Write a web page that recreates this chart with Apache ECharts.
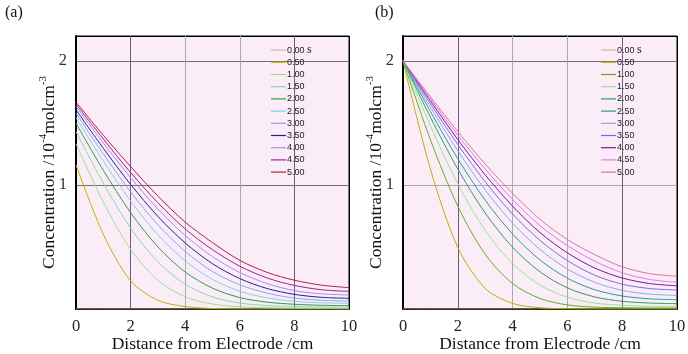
<!DOCTYPE html>
<html>
<head>
<meta charset="utf-8">
<script src="https://cdn.jsdelivr.net/npm/echarts@6/dist/echarts.min.js"></script>
<style>
html, body { margin: 0; padding: 0; background: #fff; }
#chart { width: 688px; height: 354px; }
</style>
</head>
<body>
<div id="chart"></div>
<script>
// distance from electrode (cm) where each profile is read
let xs = [0, 1, 2, 3, 4, 5, 6, 7, 8, 9, 10];
// elapsed time of each profile (s)
let times = ['0.00', '0.50', '1.00', '1.50', '2.00', '2.50', '3.00', '3.50', '4.00', '4.50', '5.00'];

// (a) concentration profiles, 10^-4 mol cm^-3
let a000 = [0, 0, 0, 0, 0, 0, 0, 0, 0, 0, 0];
let a050 = [1.161, 0.603, 0.228, 0.070, 0.020, 0.004, 0, 0, 0, 0, 0];
let a100 = [1.331, 0.862, 0.481, 0.232, 0.098, 0.040, 0.018, 0.010, 0.007, 0.006, 0.005];
let a150 = [1.430, 1.015, 0.652, 0.380, 0.200, 0.097, 0.048, 0.028, 0.020, 0.016, 0.015];
let a200 = [1.497, 1.118, 0.777, 0.500, 0.298, 0.168, 0.092, 0.055, 0.038, 0.030, 0.027];
let a250 = [1.543, 1.193, 0.870, 0.598, 0.388, 0.238, 0.143, 0.090, 0.062, 0.050, 0.045];
let a300 = [1.578, 1.250, 0.944, 0.678, 0.464, 0.302, 0.195, 0.128, 0.088, 0.070, 0.063];
let a350 = [1.605, 1.295, 1.004, 0.746, 0.532, 0.365, 0.245, 0.165, 0.118, 0.094, 0.086];
let a400 = [1.632, 1.338, 1.058, 0.806, 0.592, 0.422, 0.294, 0.205, 0.148, 0.122, 0.113];
let a450 = [1.650, 1.370, 1.100, 0.856, 0.645, 0.478, 0.345, 0.250, 0.190, 0.155, 0.142];
let a500 = [1.667, 1.400, 1.148, 0.910, 0.700, 0.535, 0.392, 0.295, 0.232, 0.192, 0.172];

// (b) concentration profiles
let b000 = [0, 0, 0, 0, 0, 0, 0, 0, 0, 0, 0];
let b050 = [2, 1.128, 0.496, 0.166, 0.045, 0.010, 0.002, 0, 0, 0, 0];
let b100 = [2, 1.365, 0.829, 0.441, 0.205, 0.085, 0.033, 0.015, 0.010, 0.008, 0.008];
let b150 = [2, 1.478, 1.010, 0.634, 0.365, 0.192, 0.095, 0.048, 0.030, 0.022, 0.020];
let b200 = [2, 1.546, 1.128, 0.773, 0.498, 0.300, 0.170, 0.097, 0.062, 0.048, 0.043];
let b250 = [2, 1.592, 1.211, 0.877, 0.604, 0.395, 0.248, 0.155, 0.105, 0.082, 0.075];
let b300 = [2, 1.627, 1.275, 0.959, 0.692, 0.480, 0.322, 0.215, 0.150, 0.120, 0.110];
let b350 = [2, 1.654, 1.326, 1.025, 0.765, 0.553, 0.390, 0.272, 0.200, 0.165, 0.153];
let b400 = [2, 1.677, 1.366, 1.081, 0.829, 0.616, 0.452, 0.330, 0.250, 0.205, 0.187];
let b450 = [2, 1.695, 1.401, 1.128, 0.883, 0.672, 0.511, 0.385, 0.292, 0.238, 0.215];
let b500 = [2, 1.710, 1.430, 1.168, 0.932, 0.723, 0.560, 0.438, 0.340, 0.285, 0.264];

let profilesA = [a000, a050, a100, a150, a200, a250, a300, a350, a400, a450, a500];
let profilesB = [b000, b050, b100, b150, b200, b250, b300, b350, b400, b450, b500];

let colorsA = ['#d8b0a8', '#c0b400', '#a0dc90', '#88d8a8', '#28a048', '#80d0f0', '#88a8e0', '#2020a0', '#a090e8', '#a02090', '#b02048'];
let colorsB = ['#e0b098', '#b8b000', '#60b020', '#98e490', '#28a060', '#20a098', '#88aae8', '#7070e0', '#8010a0', '#e078f0', '#d87894'];

let serif = 'Liberation Serif';

(function() {
	let myChart = echarts.init(document.getElementById('chart'), null, { renderer: 'canvas' });

	function buildSeries(list, colors, idx, tag) {
		return list.map(function(vals, i) {
			return {
				name: tag + ':' + times[i],
				type: 'line',
				xAxisIndex: idx,
				yAxisIndex: idx,
				symbol: 'none',
				smooth: 0.3,
				lineStyle: { width: 1, color: colors[i] },
				itemStyle: { color: colors[i] },
				data: xs.map(function(x, k) { return [x, vals[k]]; })
			};
		});
	}

	function makeX(idx) {
		return {
			gridIndex: idx,
			type: 'value',
			min: 0,
			max: 10,
			interval: 2,
			name: 'Distance from Electrode /cm',
			nameLocation: 'middle',
			nameGap: 26,
			nameMoveOverlap: false,
			nameTextStyle: { fontFamily: serif, fontSize: 17.5, color: '#111' },
			axisLine: { show: true, onZero: false, lineStyle: { color: '#000', width: 2 } },
			axisTick: { show: false },
			axisLabel: { fontFamily: serif, fontSize: 16.5, color: '#222', margin: 9 },
			splitLine: {
				show: true,
				lineStyle: { width: 1, color: ['#000', '#6e5e78', '#aaaaaa', '#aaaaaa', '#6e5e78', '#000'] }
			}
		};
	}

	function makeY(idx, gridColors) {
		return {
			gridIndex: idx,
			type: 'value',
			min: 0,
			max: 2.2,
			interval: 1,
			name: '{t|Concentration /10}{s|-4}{t|molcm}{s|-3}',
			nameLocation: 'middle',
			nameRotate: 90,
			nameGap: 18,
			nameMoveOverlap: false,
			nameTextStyle: {
				fontFamily: serif,
				fontSize: 17.5,
				color: '#111',
				rich: {
					t: { fontFamily: serif, fontSize: 17.5, lineHeight: 20, verticalAlign: 'bottom', color: '#111' },
					s: { fontFamily: serif, fontSize: 11, lineHeight: 12, verticalAlign: 'top', color: '#111' }
				}
			},
			axisLine: { show: true, onZero: false, lineStyle: { color: '#000', width: 2 } },
			axisTick: { show: false },
			axisLabel: {
				fontFamily: serif,
				fontSize: 16.5,
				color: '#333',
				margin: 9,
				formatter: function(v) { return (v === 1 || v === 2) ? String(v) : ''; }
			},
			splitLine: { show: true, lineStyle: { width: 1, color: gridColors } }
		};
	}

	function makeLegend(left, tag) {
		return {
			orient: 'vertical',
			left: left,
			top: 44,
			padding: 0,
			icon: 'rect',
			itemWidth: 15,
			itemHeight: 1.2,
			itemGap: 0,
			selectedMode: false,
			data: times.map(function(t) { return tag + ':' + t; }),
			formatter: function(name) {
				let t = name.split(':')[1];
				return t === '0.00' ? t + ' {u|s}' : t;
			},
			textStyle: {
				fontFamily: 'Liberation Sans',
				fontSize: 9,
				lineHeight: 12.2,
				color: '#222',
				padding: [0, 0, 0, -4],
				rich: { u: { fontFamily: serif, fontSize: 12, lineHeight: 12.2, color: '#222' } }
			}
		};
	}

	let option = {
		animation: false,
		backgroundColor: '#ffffff',
		grid: [
			{ left: 76, top: 36, width: 273, height: 273, outerBoundsMode: 'none', show: true, backgroundColor: '#fbedf8', borderColor: '#000', borderWidth: 1 },
			{ left: 403, top: 36, width: 274, height: 273, outerBoundsMode: 'none', show: true, backgroundColor: '#fbedf8', borderColor: '#000', borderWidth: 1 }
		],
		xAxis: [makeX(0), makeX(1)],
		yAxis: [
			makeY(0, ['#000', '#707070', '#707070', '#000']),
			makeY(1, ['#000', '#a8a8a8', '#707070', '#000'])
		],
		legend: [makeLegend(271, 'a'), makeLegend(601, 'b')],
		graphic: [
			{ type: 'text', left: 5, top: 5, style: { text: '(a)', fontFamily: serif, fontSize: 16, fill: '#111' } },
			{ type: 'text', left: 375, top: 5, style: { text: '(b)', fontFamily: serif, fontSize: 16, fill: '#111' } }
		],
		series: buildSeries(profilesA, colorsA, 0, 'a').concat(buildSeries(profilesB, colorsB, 1, 'b'))
	};

	myChart.setOption(option);

	window.addEventListener('resize', function() {
		myChart.resize();
	});
})();
</script>
</body>
</html>
